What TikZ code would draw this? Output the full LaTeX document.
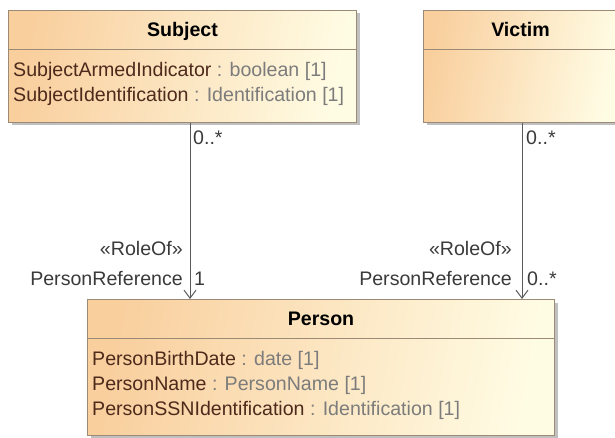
\documentclass[tikz,border=0pt]{standalone}
\usepackage{fontspec}
\setmainfont{Liberation Sans}
\usetikzlibrary{arrows.meta,calc,shadows}
\definecolor{boxorange}{HTML}{F9CF9E}
\definecolor{boxyellow}{HTML}{FFFCE4}
\definecolor{boxborder}{HTML}{9A8A76}
\definecolor{attrname}{HTML}{4E2A1C}
\definecolor{attrtype}{HTML}{7C7C7C}
\definecolor{linkcol}{HTML}{5A5A5A}
\definecolor{labelcol}{HTML}{3A3A3A}
\tikzset{
  classbox/.style={draw=boxborder, line width=1pt, left color=boxorange, right color=boxyellow,
    shading angle=80, inner sep=0pt, anchor=north west,
    drop shadow={shadow xshift=3pt, shadow yshift=-3pt, fill=black!45, opacity=.55}},
  titletext/.style={font=\fontsize{19.6}{24}\selectfont\bfseries, text=black, inner sep=0pt, anchor=base},
  attr/.style={font=\fontsize{19.6}{24}\selectfont, text=attrtype, inner sep=0pt, anchor=base west},
  lab/.style={font=\fontsize{19.6}{24}\selectfont, text=labelcol, inner sep=0pt},
  divider/.style={draw=boxborder, line width=1pt},
  assoc/.style={draw=linkcol, line width=1pt, -{Straight Barb[length=8pt,width=12pt,line width=1pt]}}
}
\begin{document}
\begin{tikzpicture}[x=1pt,y=-1pt]
\useasboundingbox (0,0) rectangle (615,438);

% classes
\node[classbox, minimum width=348pt, minimum height=112pt] (subject) at (8,10) {};
\node[classbox, minimum width=194pt, minimum height=112pt] (victim) at (423,10) {};
\node[classbox, minimum width=467pt, minimum height=136pt] (person) at (87,299) {};

% Subject
\node[titletext] (subjecttitle) at ($(subject.north)+(0,27)$) {Subject};
\draw[divider] ($(subject.north west)+(0,40)$) -- ($(subject.north east)+(0,40)$);
\node[attr] (sattr1) at ($(subject.north west)+(5,67)$) {\textcolor{attrname}{SubjectArmedIndicator} : boolean [1]};
\node[attr] (sattr2) at ($(subject.north west)+(5,92)$) {\textcolor{attrname}{SubjectIdentification} : Identification [1]};

% Victim
\node[titletext] (victimtitle) at ($(victim.north)+(0,27)$) {Victim};
\draw[divider] ($(victim.north west)+(0,40)$) -- ($(victim.north east)+(0,40)$);

% Person
\node[titletext] (persontitle) at ($(person.north)+(0,26)$) {Person};
\draw[divider] ($(person.north west)+(0,39)$) -- ($(person.north east)+(0,39)$);
\node[attr] (pattr1) at ($(person.north west)+(5,66)$) {\textcolor{attrname}{PersonBirthDate} : date [1]};
\node[attr] (pattr2) at ($(person.north west)+(5,91)$) {\textcolor{attrname}{PersonName} : PersonName [1]};
\node[attr] (pattr3) at ($(person.north west)+(5,116)$) {\textcolor{attrname}{PersonSSNIdentification} : Identification [1]};

% connectors
\coordinate (sx) at (190,0);
\coordinate (vx) at (522,0);
\draw[assoc] (subject.south -| sx) -- (person.north -| sx);
\draw[assoc] (victim.south -| vx) -- (person.north -| vx);

% labels, left
\node[lab, anchor=base west] (smult) at ($(subject.south -| sx)+(3,22)$) {0..*};
\node[lab, anchor=base east] (srole) at ($(person.north -| sx)+(-7,-44)$) {«RoleOf»};
\node[lab, anchor=base east] (sref) at ($(person.north -| sx)+(-7,-14)$) {PersonReference};
\node[lab, anchor=base west] (smult2) at ($(person.north -| sx)+(4,-14)$) {1};

% labels, right
\node[lab, anchor=base west] (vmult) at ($(victim.south -| vx)+(4,22)$) {0..*};
\node[lab, anchor=base east] (vrole) at ($(person.north -| vx)+(-10,-44)$) {«RoleOf»};
\node[lab, anchor=base east] (vref) at ($(person.north -| vx)+(-10,-14)$) {PersonReference};
\node[lab, anchor=base west] (vmult2) at ($(person.north -| vx)+(5,-14)$) {0..*};
\end{tikzpicture}
\end{document}
